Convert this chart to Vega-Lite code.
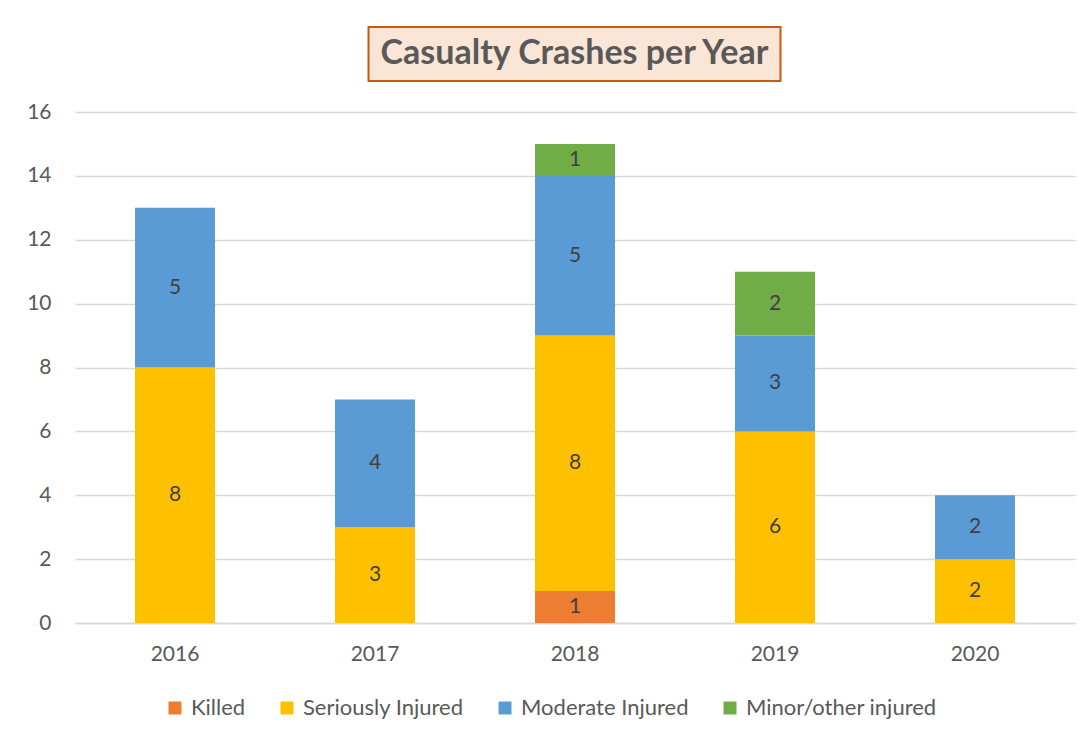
{
  "$schema": "https://vega.github.io/schema/vega-lite/v6.json",
  "background": "white",
  "padding": {"left": 26, "top": 26, "right": 10, "bottom": 5},
  "config": {"font": "Lato", "view": {"stroke": null}, "legend": {"layout": {"bottom": {"anchor": "middle"}}}},
  "spacing": 19,
  "center": true,
  "vconcat": [
    {
      "width": 412,
      "height": 54,
      "view": {"fill": "#FBE5D6", "stroke": "#C55A11", "strokeWidth": 2},
      "data": {"values": [{"t": "Casualty Crashes per Year"}]},
      "mark": {"type": "text", "font": "Lato", "fontWeight": "bold", "fontSize": 34, "color": "#595959", "baseline": "middle", "align": "center"},
      "encoding": {"text": {"field": "t"}}
    },
    {
      "width": 1000,
      "height": 511,
      "data": {
        "values": [
          {"year": "2016", "type": "Seriously Injured", "count": 8, "rank": 2},
          {"year": "2016", "type": "Moderate Injured", "count": 5, "rank": 3},
          {"year": "2017", "type": "Seriously Injured", "count": 3, "rank": 2},
          {"year": "2017", "type": "Moderate Injured", "count": 4, "rank": 3},
          {"year": "2018", "type": "Killed", "count": 1, "rank": 1},
          {"year": "2018", "type": "Seriously Injured", "count": 8, "rank": 2},
          {"year": "2018", "type": "Moderate Injured", "count": 5, "rank": 3},
          {"year": "2018", "type": "Minor/other injured", "count": 1, "rank": 4},
          {"year": "2019", "type": "Seriously Injured", "count": 6, "rank": 2},
          {"year": "2019", "type": "Moderate Injured", "count": 3, "rank": 3},
          {"year": "2019", "type": "Minor/other injured", "count": 2, "rank": 4},
          {"year": "2020", "type": "Seriously Injured", "count": 2, "rank": 2},
          {"year": "2020", "type": "Moderate Injured", "count": 2, "rank": 3}
        ]
      },
      "encoding": {
        "x": {
          "field": "year", "type": "nominal",
          "scale": {"paddingInner": 0.6, "paddingOuter": 0.3},
          "axis": {"title": null, "ticks": false, "domain": true, "domainColor": "#D9D9D9", "domainWidth": 1.5, "labelAngle": 0, "labelPadding": 20, "labelFontSize": 21, "labelColor": "#595959", "grid": false}
        },
        "order": {"field": "rank", "type": "quantitative"}
      },
      "layer": [
        {
          "mark": {"type": "bar"},
          "encoding": {
            "y": {"field": "count", "type": "quantitative", "stack": "zero", "scale": {"domain": [0, 16]},
              "axis": {"title": null, "values": [0, 2, 4, 6, 8, 10, 12, 14, 16], "domain": false, "ticks": false, "gridColor": "#D9D9D9", "gridWidth": 1.5, "labelPadding": 24, "labelFontSize": 21, "labelColor": "#595959"}},
            "color": {
              "field": "type", "type": "nominal",
              "scale": {"domain": ["Killed", "Seriously Injured", "Moderate Injured", "Minor/other injured"], "range": ["#ED7D31", "#FFC000", "#5B9BD5", "#70AD47"]},
              "legend": {"orient": "bottom", "direction": "horizontal", "title": null, "symbolType": "square", "symbolSize": 169, "symbolStrokeWidth": 0, "labelFontSize": 22, "labelLimit": 400, "labelColor": "#595959", "columnPadding": 30, "labelOffset": 5, "offset": 33}
            }
          }
        },
        {
          "mark": {"type": "text", "fontSize": 21, "color": "#404040", "baseline": "middle"},
          "encoding": {
            "y": {"field": "count", "type": "quantitative", "stack": "zero", "bandPosition": 0.5},
            "detail": {"field": "type"},
            "text": {"field": "count", "type": "quantitative"}
          }
        }
      ]
    }
  ]
}
